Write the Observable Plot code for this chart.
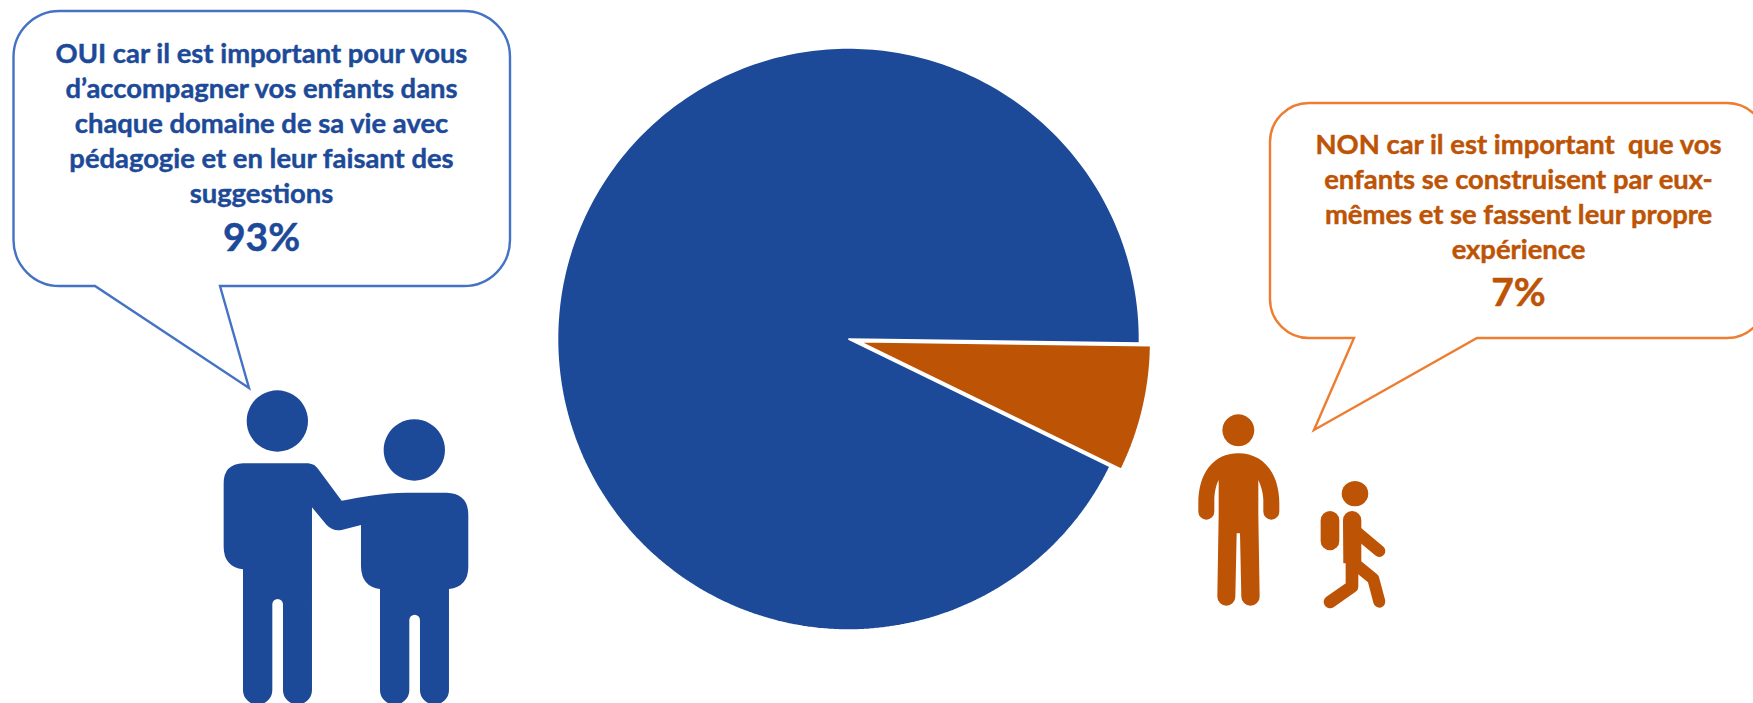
<!DOCTYPE html>
<html lang="fr">
<head>
<meta charset="utf-8">
<title>Accompagner ses enfants</title>
<script src="https://cdn.jsdelivr.net/npm/d3@7"></script>
<script src="https://cdn.jsdelivr.net/npm/@observablehq/plot@0.6"></script>
<style>
  html, body { margin: 0; padding: 0; background: #fff; overflow: hidden; }
  svg { display: block; }
</style>
</head>
<body>
<div id="chart"></div>
<script>
// Survey answers
const answers = ["NON", "OUI"];
const shares = [7, 93];
const answerColors = ["#BD5305", "#1D4A98"];

// Speech bubble wording, one entry per rendered line
const ouiLines = [
  "OUI car il est important pour vous",
  "d’accompagner vos enfants dans",
  "chaque domaine de sa vie avec",
  "pédagogie et en leur faisant des",
  "suggestions"
];
const nonLines = [
  "NON car il est important  que vos",
  "enfants se construisent par eux-",
  "mêmes et se fassent leur propre",
  "expérience"
];
const ouiShare = "93%";
const nonShare = "7%";

const W = 1753, H = 703;
const BLUE = answerColors[1], ORANGE = answerColors[0];
const FONT = "Lato, 'Open Sans', sans-serif";
const BODY_SIZE = 27.4;
const SHARE_SIZE = 39;

// Pie layout: the smaller slice is pulled out along its bisector
const pieCentre = [848, 338.5];
const pieRadius = 291;
const pieStart = (90.8 * Math.PI) / 180;
const pulledOut = { NON: 11.5, OUI: 0 };

const arcs = d3.pie().sort(null).startAngle(pieStart).endAngle(pieStart + 2 * Math.PI)(shares);
const sliceOutlines = arcs.flatMap((a, i) => {
  const answer = answers[i];
  const mid = (a.startAngle + a.endAngle) / 2;
  const cx = pieCentre[0] + pulledOut[answer] * Math.sin(mid);
  const cy = pieCentre[1] - pulledOut[answer] * Math.cos(mid);
  const steps = Math.ceil(((a.endAngle - a.startAngle) * 180) / Math.PI);
  const rim = d3.range(steps + 1).map((k) => {
    const t = a.startAngle + ((a.endAngle - a.startAngle) * k) / steps;
    return { answer, x: cx + pieRadius * Math.sin(t), y: cy - pieRadius * Math.cos(t) };
  });
  return [{ answer, x: cx, y: cy }, ...rim];
});

// Free-form SVG path mark, used for the bubbles and pictograms
function shape(d, attrs = {}) {
  return () => {
    const p = d3.create("svg:path").attr("d", d);
    for (const [k, v] of Object.entries(attrs)) p.attr(k, v);
    return p.node();
  };
}

// Rounded rectangle bubble with a pointed tail along the bottom edge
function bubble(x0, y0, x1, y1, r, tailA, tip, tailB) {
  return `M${x0 + r},${y0}H${x1 - r}A${r},${r} 0 0 1 ${x1},${y0 + r}V${y1 - r}A${r},${r} 0 0 1 ${x1 - r},${y1}` +
    `H${tailB}L${tip[0]},${tip[1]}L${tailA},${y1}H${x0 + r}A${r},${r} 0 0 1 ${x0},${y1 - r}V${y0 + r}A${r},${r} 0 0 1 ${x0 + r},${y0}Z`;
}

const pairBody =
  "M190 280L385 280Q405 282 415 298L485 392C540 382 610 368 680 368L800 368Q865 370 865 435L865 590Q865 650 807 657" +
  "L807 960A43.5 43.5 0 0 1 720 960L720 750A16 16 0 0 0 688 750L688 960A44 44 0 0 1 600 960L600 657Q545 650 543 590" +
  "L543 465L485 480Q460 485 440 465L396 412L396 960A43.5 43.5 0 0 1 309 960L309 703A16 16 0 0 0 277 703L277 960" +
  "A44 44 0 0 1 189 960L189 598Q131 590 131 530L131 340Q131 282 190 280Z";
const adultBody =
  "M205 160C280 160 328 220 328 310L328 335A24 24 0 0 1 280 335L280 300C280 280 272 255 265 240L265 345L269 590" +
  "A27.5 27.5 0 0 1 214 590L210 400L200 400L196 590A27 27 0 0 1 142 590L146 345L146 240C138 255 133 280 133 300" +
  "L133 335A24 24 0 0 1 85 335L85 310C85 220 130 160 205 160Z";
const backpack = "M480 333A28 28 0 0 1 508 361L508 423A28 28 0 0 1 452 423L452 361A28 28 0 0 1 480 333Z";
const walkerTorso = "M546 333A27.5 27.5 0 0 1 574 361L574 490L520 490L519 361A27.5 27.5 0 0 1 546 333Z";

const pairFrame = "translate(180,370) scale(0.3333)";
const walkFrame = "translate(1170,400) scale(0.3333)";
const limb = { fill: "none", stroke: ORANGE, "stroke-linecap": "round", "stroke-linejoin": "round", transform: walkFrame };

function lineRows(lines, cx, firstBaseline, lead) {
  return lines.map((text, i) => ({ text, x: cx, y: firstBaseline + i * lead }));
}

// Shared settings for the bold bubble wording; the hairline stroke thickens the glyphs a little
function wording(color, size) {
  return {
    x: "x", y: "y", text: "text", lineAnchor: "bottom", fill: color, fontSize: size, fontWeight: 700,
    stroke: color, strokeWidth: 0.45
  };
}

const chart = Plot.plot({
  width: W,
  height: H,
  margin: 0,
  x: { domain: [0, W], range: [0, W], axis: null },
  y: { domain: [0, H], range: [0, H], axis: null },
  color: { domain: answers, range: answerColors },
  style: { background: "#fff", fontFamily: FONT },
  marks: [
    // Pie slices
    Plot.line(sliceOutlines, {
      x: "x", y: "y", z: "answer", fill: "answer",
      stroke: "white", strokeWidth: 1.6, curve: "linear-closed", strokeLinejoin: "miter"
    }),
    // Speech bubbles
    shape(bubble(13.5, 11, 510, 286, 46, 95, [249, 388], 220), { fill: "#fff", stroke: "#4472C4", "stroke-width": 2.4 }),
    shape(bubble(1270, 103, 1766, 338, 39, 1354, [1314, 430], 1477), { fill: "#fff", stroke: "#ED7D31", "stroke-width": 2.4 }),
    // Bubble wording
    Plot.text(lineRows(ouiLines, 261, 62, 35), wording(BLUE, BODY_SIZE)),
    Plot.text(lineRows(nonLines, 1518, 153, 35), wording(ORANGE, BODY_SIZE)),
    Plot.text(lineRows([ouiShare], 261, 250, 0), wording(BLUE, SHARE_SIZE)),
    Plot.text(lineRows([nonShare], 1518, 305, 0), wording(ORANGE, SHARE_SIZE)),
    // Parent and child, arm on the shoulder
    shape(pairBody, { fill: BLUE, transform: pairFrame }),
    shape("M292 61a92 92 0 1 0 .01 0Z", { fill: BLUE, transform: pairFrame }),
    shape("M703 148a92 92 0 1 0 .01 0Z", { fill: BLUE, transform: pairFrame }),
    // Adult standing apart
    shape(adultBody, { fill: ORANGE, transform: walkFrame }),
    shape("M205 43a48 48 0 1 0 .01 0Z", { fill: ORANGE, transform: walkFrame }),
    // Child walking off with a backpack
    shape("M555 243a40 38 0 1 0 .01 0Z", { fill: ORANGE, transform: walkFrame }),
    shape(backpack, { fill: ORANGE, transform: walkFrame }),
    shape(walkerTorso, { fill: ORANGE, transform: walkFrame }),
    shape("M562 398L628 453", { ...limb, "stroke-width": 36 }),
    shape("M546 490L546 560L480 606", { ...limb, "stroke-width": 38 }),
    shape("M565 500L610 537L628 605", { ...limb, "stroke-width": 36 })
  ]
});

document.getElementById("chart").append(chart);
</script>
</body>
</html>
